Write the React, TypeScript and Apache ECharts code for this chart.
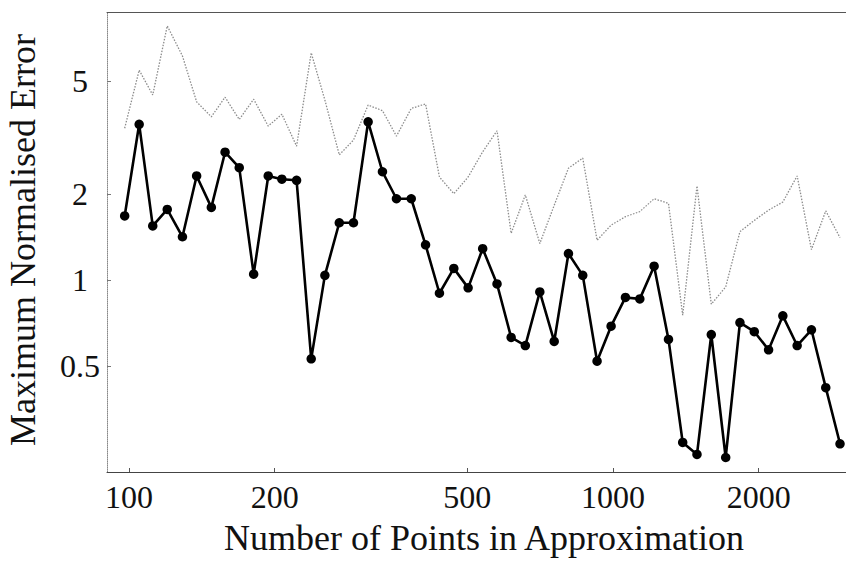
import React, { useEffect, useRef } from "react";
import * as echarts from "echarts";

// Number of points (x) for each sample
const pointCounts = [
  98, 105, 112, 120, 129, 138, 148, 158, 169, 181,
  194, 207, 222, 238, 254, 272, 291, 312, 334, 357,
  383, 410, 438, 469, 502, 538, 576, 616, 659, 706,
  756, 809, 866, 927, 991, 1061, 1136, 1216, 1302, 1393,
  1491, 1596, 1709, 1829, 1958, 2096, 2243, 2401, 2570, 2751,
  2944,
];

// Black line with markers
const errorMarked = [
  1.68, 3.52, 1.55, 1.77, 1.42, 2.32, 1.8, 2.81, 2.48, 1.05,
  2.32, 2.26, 2.24, 0.53, 1.04, 1.59, 1.59, 3.59, 2.4, 1.93,
  1.93, 1.33, 0.9, 1.1, 0.94, 1.29, 0.97, 0.63, 0.59, 0.91,
  0.61, 1.24, 1.04, 0.52, 0.69, 0.87, 0.86, 1.12, 0.62, 0.27,
  0.245, 0.645, 0.239, 0.71, 0.66, 0.57, 0.75, 0.59, 0.67, 0.42,
  0.267,
];

// Grey dotted line
const errorDotted = [
  3.41, 5.45, 4.46, 7.79, 6.11, 4.22, 3.74, 4.38, 3.66, 4.31,
  3.47, 3.82, 2.95, 6.27, 4.28, 2.75, 3.1, 4.11, 3.93, 3.2,
  4.0, 4.15, 2.3, 2.01, 2.3, 2.82, 3.34, 1.46, 1.99, 1.345,
  1.83, 2.47, 2.68, 1.38, 1.56, 1.67, 1.74, 1.93, 1.86, 0.754,
  2.14, 0.824, 0.947, 1.48, 1.62, 1.76, 1.88, 2.32, 1.28, 1.75,
  1.41,
];

const xTickValues = [100, 200, 500, 1000, 2000];
const yTickValues = [0.5, 1, 2, 5];

const X_MIN = 90.1;
const X_MAX = 3029;
const Y_MIN = 0.2126;
const Y_MAX = 8.715;

const FONT = '"Liberation Serif", "Times New Roman", serif';

export default function App() {
  const ref = useRef<HTMLDivElement>(null);

  useEffect(() => {
    if (!ref.current) return;
    const chart = echarts.init(ref.current, undefined, { renderer: "svg" });

    const xLogTicks = xTickValues.map((v) => Math.log10(v));
    const yLogTicks = yTickValues.map((v) => Math.log10(v));

    const option: any = {
      animation: false,
      backgroundColor: "#ffffff",
      grid: { left: 107, right: 0, top: 12, bottom: 92, containLabel: false },
      xAxis: [
        {
          type: "log",
          logBase: 10,
          min: X_MIN,
          max: X_MAX,
          position: "bottom",
          axisLine: { show: true, onZero: false, lineStyle: { color: "#444", width: 1 } },
          axisTick: { show: false },
          axisLabel: { show: false },
          splitLine: { show: false },
        },
        {
          type: "log",
          logBase: 10,
          min: X_MIN,
          max: X_MAX,
          position: "top",
          axisLine: { show: true, onZero: false, lineStyle: { color: "#555", width: 1 } },
          axisTick: { show: false },
          axisLabel: { show: false },
          splitLine: { show: false },
        },
        {
          type: "value",
          min: Math.log10(X_MIN),
          max: Math.log10(X_MAX),
          position: "bottom",
          axisLine: { show: false, onZero: false },
          axisTick: {
            show: true,
            inside: true,
            length: 4,
            customValues: xLogTicks,
            lineStyle: { color: "#555" },
          },
          axisLabel: {
            show: true,
            customValues: xLogTicks,
            formatter: (v: number) => String(Math.round(Math.pow(10, v))),
            fontFamily: FONT,
            fontSize: 32,
            lineHeight: 30,
            color: "#111",
            margin: 10,
          },
          splitLine: { show: false },
        },
      ],
      yAxis: [
        {
          type: "log",
          logBase: 10,
          min: Y_MIN,
          max: Y_MAX,
          position: "left",
          axisLine: { show: true, onZero: false, lineStyle: { color: "#888", width: 1, type: "dotted" } },
          axisTick: { show: false },
          axisLabel: { show: false },
          splitLine: { show: false },
        },
        {
          type: "value",
          min: Math.log10(Y_MIN),
          max: Math.log10(Y_MAX),
          position: "left",
          axisLine: { show: false, onZero: false },
          axisTick: {
            show: true,
            inside: true,
            length: 4,
            customValues: yLogTicks,
            lineStyle: { color: "#777" },
          },
          axisLabel: {
            show: true,
            customValues: yLogTicks,
            formatter: (v: number) => String(Number(Math.pow(10, v).toPrecision(3))),
            fontFamily: FONT,
            fontSize: 32,
            color: "#111",
            align: "center",
            margin: 27,
          },
          splitLine: { show: false },
        },
      ],
      series: [
        {
          type: "line",
          xAxisIndex: 0,
          yAxisIndex: 0,
          data: pointCounts.map((n, i) => [n, errorDotted[i]]),
          symbol: "none",
          lineStyle: { color: "#8c8c8c", width: 1.3, type: [1.5, 1.5] },
          z: 2,
        },
        {
          type: "line",
          xAxisIndex: 0,
          yAxisIndex: 0,
          data: pointCounts.map((n, i) => [n, errorMarked[i]]),
          symbol: "circle",
          symbolSize: 9.5,
          itemStyle: { color: "#000" },
          lineStyle: { color: "#000", width: 2.6 },
          z: 3,
        },
      ],
      graphic: [
        {
          type: "text",
          x: 484,
          y: 538,
          style: {
            text: "Number of Points in Approximation",
            font: `36px ${FONT}`,
            lineHeight: 34,
            fill: "#111",
            textAlign: "center",
            textVerticalAlign: "middle",
            align: "center",
            verticalAlign: "middle",
          },
        },
        {
          type: "text",
          x: 23,
          y: 240,
          rotation: Math.PI / 2,
          style: {
            text: "Maximum Normalised Error",
            font: `36px ${FONT}`,
            fill: "#111",
            textAlign: "center",
            textVerticalAlign: "middle",
            align: "center",
            verticalAlign: "middle",
          },
        },
      ],
    };

    chart.setOption(option);
    return () => chart.dispose();
  }, []);

  return (
    <div
      ref={ref}
      style={{ position: "absolute", left: 0, top: 0, width: 846, height: 564, background: "#fff" }}
    />
  );
}
